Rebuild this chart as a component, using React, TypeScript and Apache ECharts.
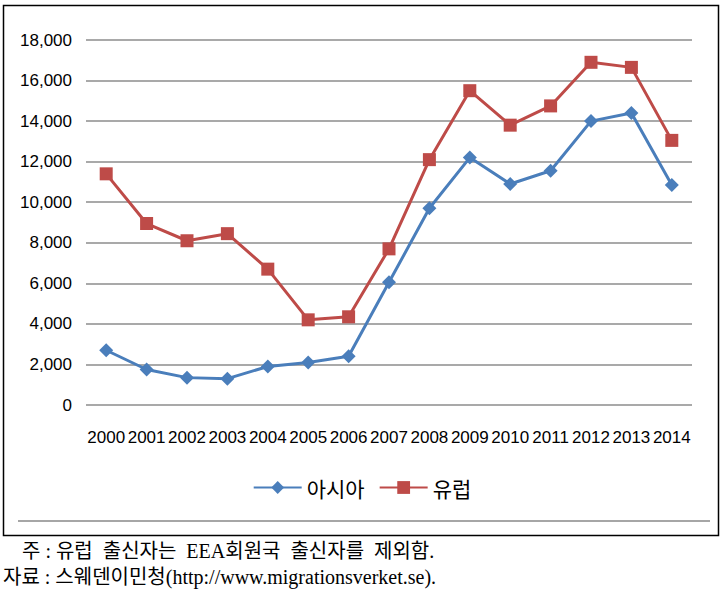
import React, { useEffect, useRef } from "react";
import * as echarts from "echarts";

const years = ["2000","2001","2002","2003","2004","2005","2006","2007","2008","2009","2010","2011","2012","2013","2014"];
const asia = [2700,1750,1350,1300,1900,2100,2400,6050,9700,12200,10900,11550,14000,14400,10850];
const europe = [11400,8950,8100,8450,6700,4200,4350,7700,12100,15500,13800,14750,16900,16650,13050];
const seriesNames = ["아시아", "유럽"];
const notes = ["주 : 유럽  출신자는  EEA회원국  출신자를  제외함.", "자료 : 스웨덴이민청(http://www.migrationsverket.se)."];

const labelFont = "'Liberation Sans Narrow', 'Arial Narrow', 'Liberation Sans', 'Noto Sans CJK KR', sans-serif";

export default function App() {
  const ref = useRef<HTMLDivElement>(null);
  useEffect(() => {
    const chart = echarts.init(ref.current!, null, { renderer: "svg" });
    chart.setOption({
      animation: false,
      backgroundColor: "#fff",
      grid: { left: 86, right: 32, top: 40, bottom: 195 },
      xAxis: {
        type: "category",
        data: years,
        boundaryGap: true,
        axisLine: { show: false },
        axisTick: { show: false },
        axisLabel: { color: "#000", fontSize: 17, fontFamily: labelFont, margin: 24, interval: 0 },
      },
      yAxis: {
        type: "value",
        min: 0,
        max: 18000,
        interval: 2000,
        axisLine: { show: false },
        axisTick: { show: false },
        axisLabel: {
          color: "#000", fontSize: 17, fontFamily: labelFont, margin: 14,
          formatter: (v: number) => v.toLocaleString("en-US"),
        },
        splitLine: { lineStyle: { color: "#8c8c8c", width: 1.5 } },
      },
      legend: {
        bottom: 97,
        left: "center",
        itemWidth: 48,
        itemHeight: 16,
        itemGap: 14,
        textStyle: { fontSize: 21, fontFamily: "'Noto Sans CJK KR', sans-serif", color: "#000" },
        data: seriesNames,
      },
      series: [
        {
          name: seriesNames[0], type: "line", data: asia,
          symbol: "diamond", symbolSize: 14,
          lineStyle: { color: "#4A7EBB", width: 3 },
          itemStyle: { color: "#4A7EBB" },
        },
        {
          name: seriesNames[1], type: "line", data: europe,
          symbol: "rect", symbolSize: 13,
          lineStyle: { color: "#BE4B48", width: 3 },
          itemStyle: { color: "#BE4B48" },
        },
      ],
      graphic: [
        { type: "rect", shape: { x: 3.5, y: 5.5, width: 715, height: 530 }, style: { fill: "none", stroke: "#000", lineWidth: 1.5 }, silent: true },
        { type: "line", shape: { x1: 18, y1: 521, x2: 710, y2: 521 }, style: { stroke: "#888", lineWidth: 1.5 } },
        { type: "text", x: 22, y: 541, style: { text: notes[0], font: "20px 'Liberation Serif', 'Noto Sans CJK KR', serif", fill: "#000" } },
        { type: "text", x: 3, y: 567, style: { text: notes[1], font: "20px 'Liberation Serif', 'Noto Sans CJK KR', serif", fill: "#000" } },
      ],
    });
    return () => chart.dispose();
  }, []);
  return <div ref={ref} style={{ position: "fixed", left: 0, top: 0, width: 724, height: 600 }} />;
}
